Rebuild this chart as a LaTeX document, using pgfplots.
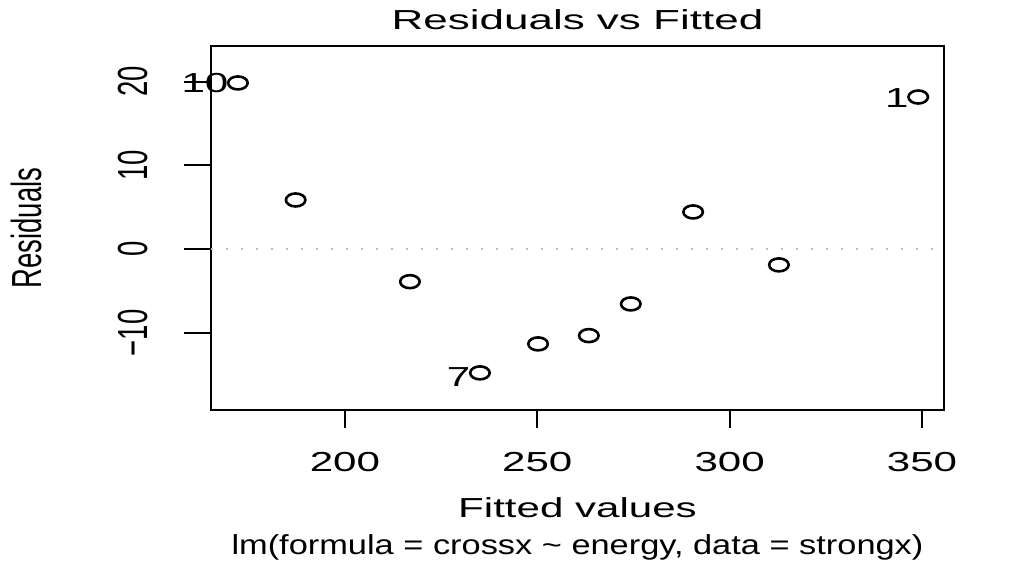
\documentclass[border=0pt]{standalone}
\usepackage{fontspec}
\setmainfont{Liberation Sans}
\usepackage{pgfplots}
\pgfplotsset{compat=1.18}
\definecolor{rgray}{RGB}{190,190,190}
\begin{document}
\fontsize{13.75}{16.5}\selectfont
\begin{tikzpicture}
  % page = 1025x583 px at 0.5pt per px
  \useasboundingbox (-105.5pt,-86.5pt) rectangle ++(512.5pt,291.5pt);
  \begin{axis}[
      scale only axis, width=366.5pt, height=182pt, clip=false,
      xmin=165.2, xmax=355.7, ymin=-19.19, ymax=24.26,
      xtick={200,250,300,350}, ytick={-10,0,10,20},
      yticklabels={−10,0,10,20},
      xtick pos=bottom, ytick pos=left,
      tick align=outside, major tick length=9pt,
      axis line style={line width=1pt}, tick style={line width=1pt, black},
      ytick style={draw=none},
      /pgf/number format/assume math mode=true,
      /pgf/number format/1000 sep={},
      xticklabel style={yshift=-22pt, xscale=1.53, anchor=base, inner sep=0pt},
      yticklabel style={xshift=-22.5pt, xscale=1.53, rotate=90, anchor=base, inner sep=0pt},
      title={Residuals vs Fitted},
      title style={at={(axis description cs:0.5,1)}, yshift=2pt, xscale=1.6, anchor=base, inner sep=0pt},
      xlabel={Fitted values},
      xlabel style={at={(axis description cs:0.5,0)}, yshift=-54pt, xscale=1.53, anchor=base, inner sep=0pt},
      ylabel={Residuals},
      ylabel style={at={(axis description cs:0,0.5)}, rotate=-90, xshift=-84.5pt, xscale=1.53,
        rotate=90, anchor=base, inner sep=0pt},
    ]
    % y ticks are longer than x ticks in the reference (stretched image)
    \draw[line width=1pt] (axis cs:165.2,-10) -- ++(-13.5pt,0pt);
    \draw[line width=1pt] (axis cs:165.2,0) -- ++(-13.5pt,0pt);
    \draw[line width=1pt] (axis cs:165.2,10) -- ++(-13.5pt,0pt);
    \draw[line width=1pt] (axis cs:165.2,20) -- ++(-13.5pt,0pt);
    \addplot[rgray, line width=1pt, dash pattern=on 1pt off 6.5pt] coordinates {(165.2,0) (355.7,0)};
    \addplot[only marks, mark=o, mark size=3.25pt, mark options={xscale=1.5, line width=1.3pt, black}]
      coordinates {
        (172.2,19.85) (187.2,5.88) (216.9,-3.87) (235.1,-14.76) (250.2,-11.3)
        (263.4,-10.31) (274.3,-6.53) (290.5,4.45) (312.8,-1.87) (349.0,18.17)
      };
    \node[anchor=east, xshift=-4.5pt, xscale=1.53, inner sep=0pt] at (axis cs:172.2,19.85) {10};
    \node[anchor=east, xshift=-4.5pt, xscale=1.53, inner sep=0pt] at (axis cs:235.1,-15.3) {7};
    \node[anchor=east, xshift=-4.5pt, xscale=1.53, inner sep=0pt] at (axis cs:349.0,18.0) {1};
    \node[anchor=base, yshift=-72.5pt, xscale=1.25, inner sep=0pt] at (axis description cs:0.5,0)
      {lm(formula = crossx \textasciitilde{} energy, data = strongx)};
  \end{axis}
\end{tikzpicture}
\end{document}
